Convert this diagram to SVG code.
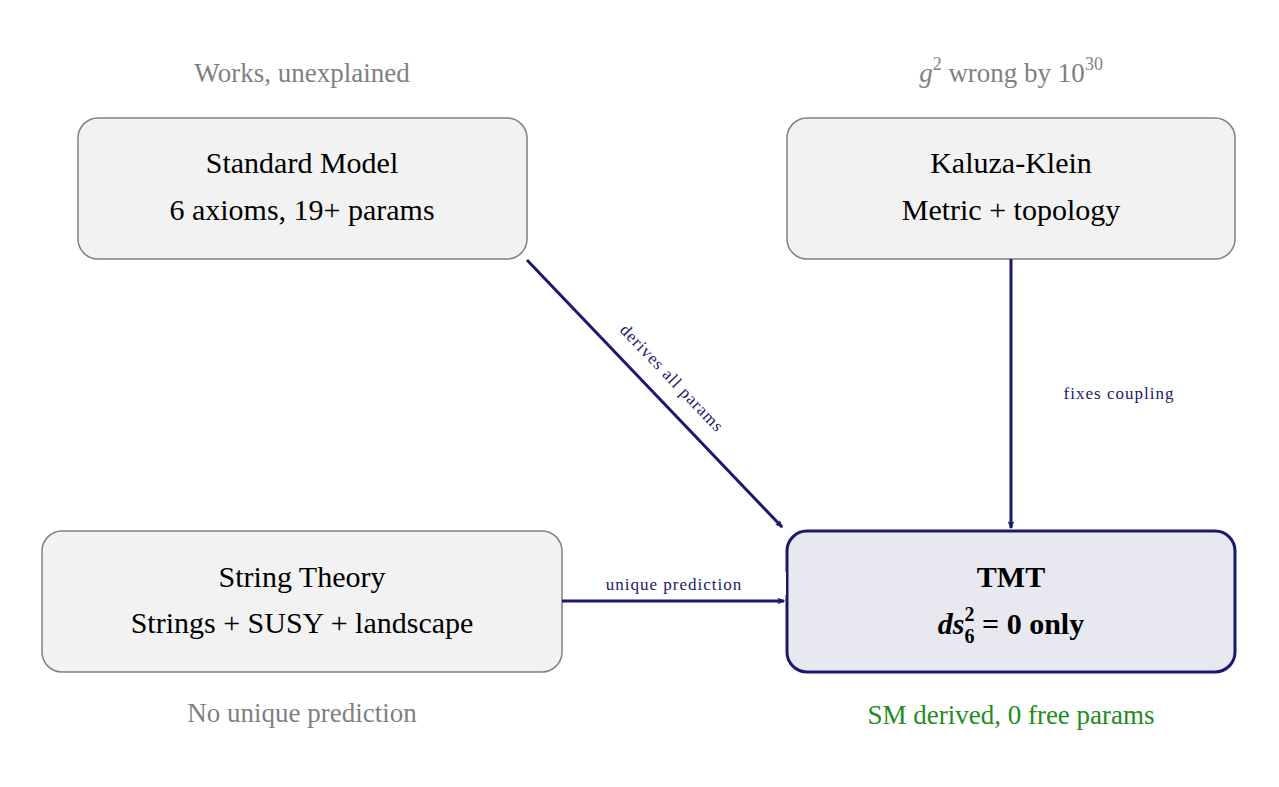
<svg xmlns="http://www.w3.org/2000/svg" width="1279" height="787" viewBox="0 0 1279 787">
<defs>
<style>
text{font-family:"Liberation Serif","DejaVu Serif",serif;text-anchor:middle}
.box{fill:#f2f2f2;stroke:#808080;stroke-width:1.5}
.tmt{fill:#e8e8f0;stroke:#191970;stroke-width:3}
.t{font-size:30px;fill:#000}
.note{font-size:27px;fill:#808080}
.lab{font-size:17px;fill:#191970;letter-spacing:1px}
.edge{stroke:#191970;stroke-width:3;fill:none;marker-end:url(#ah)}
</style>
<marker id="ah" viewBox="0 0 12 10" refX="10" refY="5" markerWidth="8" markerHeight="7" orient="auto" markerUnits="userSpaceOnUse">
<path d="M0,0 Q4,5 0,10 L12,5 Z" fill="#191970"/>
</marker>
</defs>
<g id="sm">
<rect class="box" x="78" y="118" width="449" height="141" rx="20"/>
<text class="t" x="302" y="173">Standard Model</text>
<text class="t" x="302" y="220">6 axioms, 19+ params</text>
<text class="note" x="302" y="82">Works, unexplained</text>
</g>
<g id="kk">
<rect class="box" x="787" y="118" width="448" height="141" rx="20"/>
<text class="t" x="1011" y="173">Kaluza-Klein</text>
<text class="t" x="1011" y="220">Metric + topology</text>
<text class="note" x="1011" y="82"><tspan font-style="italic">g</tspan><tspan font-size="18" dy="-12">2</tspan><tspan dy="12"> wrong by 10</tspan><tspan font-size="18" dy="-12">30</tspan></text>
</g>
<g id="st">
<rect class="box" x="42" y="531" width="520" height="141" rx="20"/>
<text class="t" x="302" y="587">String Theory</text>
<text class="t" x="302" y="633">Strings + SUSY + landscape</text>
<text class="note" x="302" y="722">No unique prediction</text>
</g>
<g id="tmt">
<rect class="tmt" x="787" y="531" width="448" height="141" rx="20"/>
<text class="t" x="1011" y="587" font-weight="bold">TMT</text>
<text class="t" x="1011" y="634" font-weight="bold"><tspan font-style="italic">ds</tspan><tspan font-size="20" dy="-13">2</tspan><tspan font-size="20" dx="-10" dy="22">6</tspan><tspan dy="-9"> = 0 only</tspan></text>
<text class="note" x="1011" y="724" style="fill:#228b22">SM derived, 0 free params</text>
</g>
<g id="connectors">
<line class="edge" x1="527" y1="260" x2="782" y2="527"/>
<text class="lab" transform="translate(668,382) rotate(46.3)">derives all params</text>
<line class="edge" x1="1011" y1="259" x2="1011" y2="528"/>
<text class="lab" x="1119" y="399">fixes coupling</text>
<line class="edge" x1="562" y1="601" x2="784" y2="601"/>
<rect x="563" y="572" width="223" height="23" fill="#fff"/>
<text class="lab" x="674" y="590">unique prediction</text>
</g>
</svg>
